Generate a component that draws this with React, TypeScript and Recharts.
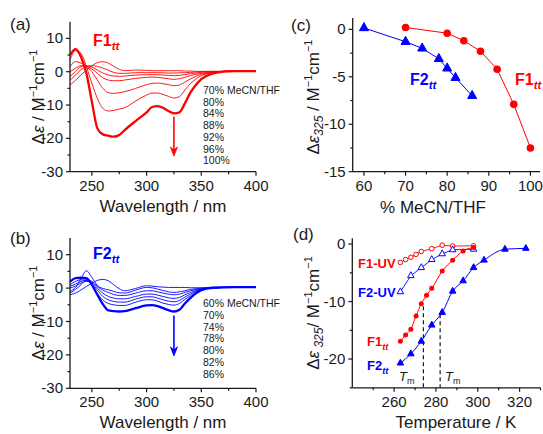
import React from "react";
import { LineChart, Line, XAxis, YAxis, ReferenceLine, ReferenceDot } from "recharts";

const FONT = "'Liberation Sans', Arial, Helvetica, sans-serif";
const RED = "#ff0000";
const BLUE = "#0000ff";
const INK = "#1a1a1a";
const W = 543;
const H = 434;

// CD spectra share one wavelength grid (nm)
const wavelengths = [230, 235, 240, 245, 250, 255, 260, 265, 270, 275, 280, 290, 300, 305, 310, 315, 320, 325, 330, 335, 340, 345, 350, 360, 370, 380, 390, 400];

// (a) F1tt in MeCN/THF
const f1Labels = ["70% MeCN/THF", "80%", "84%", "88%", "92%", "96%", "100%"];
const f1_70 = [-4.0, -2.6, -1.0, 0.5, 1.8, 2.7, 3.0, 2.6, 1.6, 0.7, 0.3, 0.5, 0.4, 0.3, 0.3, 0.3, 0.3, 0.3, 0.3, 0.2, 0.2, 0.1, 0.1, 0.1, 0.1, 0.2, 0.2, 0.2];
const f1_80 = [-2.6, -1.0, 0.6, 1.5, 1.8, 1.6, 1.1, 0.4, -0.2, -0.5, -0.5, -0.3, -0.3, -0.3, -0.3, -0.35, -0.4, -0.4, -0.35, -0.3, -0.2, -0.1, 0.0, 0.1, 0.1, 0.2, 0.2, 0.2];
const f1_84 = [-1.5, 0.1, 1.5, 1.8, 1.4, 0.5, -0.4, -1.0, -1.3, -1.4, -1.3, -1.0, -0.9, -0.9, -0.9, -1.0, -1.1, -1.2, -1.1, -0.9, -0.6, -0.4, -0.2, 0.0, 0.1, 0.2, 0.2, 0.2];
const f1_88 = [0.0, 1.0, 1.8, 1.6, 0.8, -0.5, -1.8, -2.5, -2.7, -2.7, -2.5, -2.0, -1.7, -1.6, -1.7, -1.9, -2.1, -2.3, -2.1, -1.7, -1.2, -0.8, -0.5, -0.1, 0.1, 0.2, 0.2, 0.2];
const f1_92 = [1.5, 3.0, 2.6, 1.4, 0.0, -2.5, -5.0, -6.3, -6.5, -6.3, -6.0, -5.0, -3.9, -3.5, -3.4, -3.6, -3.9, -4.2, -4.0, -3.1, -2.2, -1.4, -0.8, -0.2, 0.1, 0.2, 0.2, 0.2];
const f1_96 = [3.5, 6.3, 5.5, 1.5, -3.5, -8.0, -11.0, -11.8, -11.6, -11.2, -10.8, -8.8, -7.0, -6.4, -6.4, -6.8, -7.4, -7.9, -7.5, -5.5, -3.6, -2.2, -1.2, -0.3, 0.1, 0.2, 0.2, 0.2];
const f1_100 = [5.0, 6.8, 4.5, -0.5, -9.0, -17.0, -18.8, -19.2, -19.5, -19.0, -17.5, -14.8, -12.2, -10.6, -10.3, -10.8, -11.8, -12.5, -12.2, -9.5, -6.3, -4.0, -2.2, -0.6, 0.0, 0.2, 0.2, 0.2];
const f1Spectra = [f1_70, f1_80, f1_84, f1_88, f1_92, f1_96, f1_100];

// (b) F2tt in MeCN/THF
const f2Labels = ["60% MeCN/THF", "70%", "74%", "78%", "80%", "82%", "86%"];
const f2_60 = [-2.0, -1.5, -0.6, 0.5, 1.5, 2.3, 2.6, 2.2, 1.0, -0.2, -0.8, -0.1, 0.7, 0.6, 0.4, 0.3, 0.2, 0.2, 0.2, 0.2, 0.1, 0.1, 0.1, 0.1, 0.2, 0.3, 0.3, 0.3];
const f2_70 = [-1.0, 0.2, 2.8, 5.2, 3.2, 0.8, -0.1, -0.5, -1.0, -1.4, -1.5, -0.6, 0.2, 0.1, -0.3, -0.7, -1.1, -1.3, -1.1, -0.8, -0.4, -0.2, 0.0, 0.1, 0.2, 0.3, 0.3, 0.3];
const f2_74 = [-1.5, -0.4, 1.0, 2.5, 2.0, 0.5, -0.6, -1.3, -1.9, -2.2, -2.2, -1.5, -0.8, -0.8, -1.1, -1.5, -1.8, -2.0, -1.8, -1.3, -0.8, -0.4, -0.2, 0.1, 0.2, 0.3, 0.3, 0.3];
const f2_78 = [0.0, 0.6, 1.5, 2.0, 1.7, 0.0, -1.5, -2.5, -3.0, -3.2, -3.2, -2.5, -1.8, -1.8, -2.1, -2.5, -2.9, -3.1, -2.8, -2.0, -1.3, -0.7, -0.3, 0.1, 0.2, 0.3, 0.3, 0.3];
const f2_80 = [0.5, 1.2, 2.0, 2.3, 1.4, -0.6, -2.5, -3.5, -4.0, -4.2, -4.2, -3.3, -2.6, -2.6, -3.0, -3.5, -3.9, -4.1, -3.7, -2.7, -1.8, -0.9, -0.4, 0.1, 0.2, 0.3, 0.3, 0.3];
const f2_82 = [1.0, 2.0, 2.5, 2.4, 1.0, -1.6, -3.6, -4.6, -5.0, -5.2, -5.2, -4.2, -3.5, -3.5, -3.9, -4.5, -4.9, -5.1, -4.6, -3.4, -2.3, -1.2, -0.5, 0.1, 0.2, 0.3, 0.3, 0.3];
const f2_86 = [1.9, 3.0, 3.1, 3.0, 1.0, -2.0, -4.8, -6.7, -6.9, -7.0, -6.9, -6.0, -5.2, -5.1, -5.4, -6.0, -6.6, -7.0, -6.5, -4.6, -3.0, -1.6, -0.6, 0.1, 0.2, 0.3, 0.3, 0.3];
const f2Spectra = [f2_60, f2_70, f2_74, f2_78, f2_80, f2_82, f2_86];

// (c) Δε at 325 nm vs solvent composition
const pctF1 = [70, 80, 84, 88, 92, 96, 100];
const de325F1 = [0.2, -0.4, -1.2, -2.3, -4.2, -7.9, -12.5];
const pctF2 = [60, 70, 74, 78, 80, 82, 86];
const de325F2 = [0.15, -1.3, -2.0, -3.1, -4.1, -5.1, -7.0];

// (d) Δε at 325 nm vs temperature
const tempF1 = [263, 265.5, 268, 270.5, 273, 275.5, 278, 283, 288, 293, 298];
const meltF1 = [-16.9, -15.8, -14.8, -12.5, -10.4, -8.9, -7.7, -4.7, -2.8, -1.2, -0.6];
const tempF2 = [263, 268, 273, 278, 283, 288, 293, 298, 303, 313, 323];
const meltF2 = [-20.7, -19.1, -16.9, -14.1, -11.9, -8.2, -6.4, -4.1, -2.8, -0.9, -0.75];
const tempF1uv = [263, 265.5, 268, 270.5, 273, 278, 283, 288, 298];
const meltF1uv = [-3.2, -2.7, -2.3, -1.8, -1.3, -0.8, -0.2, -0.35, -0.3];
const tempF2uv = [263, 268, 273, 278, 283, 288, 298];
const meltF2uv = [-8.3, -5.5, -4.1, -2.7, -1.7, -1.0, -0.9];
const tmValues = [274, 282];
const tmTops = [-10.8, -12.2];

const toRows = (xs: number[], ys: number[]) => xs.map((x, i) => ({ x, y: ys[i] }));
const spectraRows = (sets: number[][]) =>
  wavelengths.map((x, i) => {
    const row: Record<string, number> = { x };
    sets.forEach((s, k) => (row["s" + k] = s[i]));
    return row;
  });

const XTick = (p: any) => {
  const { x, y, payload, majors } = p;
  const major = majors.includes(payload.value);
  return (
    <g>
      <line x1={x} x2={x} y1={y} y2={y + (major ? 4 : 2.5)} stroke={INK} strokeWidth={1.2} />
      {major && (
        <text x={x} y={y + 19} textAnchor="middle" fontSize={15} fontFamily={FONT} fill={INK}>
          {payload.value}
        </text>
      )}
    </g>
  );
};

const YTick = (p: any) => {
  const { x, y, payload, majors } = p;
  const major = majors.includes(payload.value);
  return (
    <g>
      <line x1={x - (major ? 4 : 2.5)} x2={x} y1={y} y2={y} stroke={INK} strokeWidth={1.2} />
      {major && (
        <text x={x - 7} y={y + 5} textAnchor="end" fontSize={15} fontFamily={FONT} fill={INK}>
          {payload.value}
        </text>
      )}
    </g>
  );
};

const Tri = ({ cx, cy, s, fill, stroke }: any) => (
  <path
    d={`M${cx},${cy - s * 0.6} L${cx - s / 2},${cy + s * 0.3} L${cx + s / 2},${cy + s * 0.3} Z`}
    fill={fill}
    stroke={stroke}
    strokeWidth={1}
  />
);

const ArrowHead = ({ cx, cy, color }: any) => (
  <path d={`M${cx - 3.5},${cy - 9} L${cx},${cy} L${cx + 3.5},${cy - 9} L${cx},${cy - 6} Z`} fill={color} stroke={color} strokeWidth={0.8} />
);

type Box = { left: number; right: number; top: number; bottom: number };

function Panel(props: {
  box: Box;
  data?: any[];
  xDomain: number[];
  yDomain: number[];
  xTicks: number[];
  xMajor: number[];
  yTicks: number[];
  yMajor: number[];
  children: React.ReactNode;
}) {
  const { box } = props;
  const margin = { top: box.top, right: W - box.right, left: box.left - 40, bottom: H - box.bottom - 30 };
  return (
    <div style={{ position: "absolute", left: 0, top: 0 }}>
      <LineChart width={W} height={H} data={props.data} margin={margin}>
        <XAxis
          type="number"
          dataKey="x"
          domain={props.xDomain}
          ticks={props.xTicks}
          interval={0}
          height={30}
          tickSize={0}
          tickMargin={0}
          tickLine={false}
          allowDataOverflow
          axisLine={{ stroke: INK, strokeWidth: 1.3 }}
          tick={(p: any) => <XTick {...p} majors={props.xMajor} />}
        />
        <YAxis
          type="number"
          domain={props.yDomain}
          ticks={props.yTicks}
          interval={0}
          width={40}
          tickSize={0}
          tickMargin={0}
          tickLine={false}
          allowDataOverflow
          axisLine={{ stroke: INK, strokeWidth: 1.3 }}
          tick={(p: any) => <YTick {...p} majors={props.yMajor} />}
        />
        {props.children}
      </LineChart>
    </div>
  );
}

const Name = ({ x, y, main, sub, color, size }: any) => (
  <text x={x} y={y} fill={color} fontWeight="bold" fontSize={size} fontFamily={FONT}>
    {main}
    <tspan fontStyle="italic" fontSize={size * 0.72} dy={size * 0.28}>
      {sub}
    </tspan>
  </text>
);

const YLabel = ({ x, y, sub, gap }: any) => (
  <text transform={`translate(${x},${y}) rotate(-90)`} textAnchor="middle" fontSize={17} fontFamily={FONT} fill={INK}>
    Δ<tspan fontStyle="italic">ε</tspan>
    {sub ? (
      <>
        <tspan fontStyle="italic" fontSize={12} dy={4}>
          {gap ? " " + sub : sub}
        </tspan>
        <tspan dy={-4}>{gap ? "/ M" : " / M"}</tspan>
      </>
    ) : (
      <tspan> / M</tspan>
    )}
    <tspan fontSize={11} dy={-7}>−1</tspan>
    <tspan dy={7}>cm</tspan>
    <tspan fontSize={11} dy={-7}>−1</tspan>
  </text>
);

const T = ({ x, y, children, size = 17, anchor = "start" }: any) => (
  <text x={x} y={y} fontSize={size} fontFamily={FONT} fill={INK} textAnchor={anchor}>
    {children}
  </text>
);

const Tm = ({ x, y }: any) => (
  <text x={x} y={y} fontSize={13} fontFamily={FONT} fill={INK} fontStyle="italic">
    T<tspan fontStyle="normal" fontSize={9} dy={3}>m</tspan>
  </text>
);

const specX = [250, 275, 300, 325, 350, 375, 400];
const specXMajor = [250, 300, 350, 400];
const specY = [10, 5, 0, -5, -10, -15, -20, -25, -30];
const specYMajor = [10, 0, -10, -20, -30];

export default function App() {
  const rowsA = spectraRows(f1Spectra);
  const rowsB = spectraRows(f2Spectra);
  return (
    <div style={{ position: "absolute", left: 0, top: 0, width: W, height: H, background: "#fff", overflow: "hidden" }}>
      {/* (a) */}
      <Panel
        box={{ left: 70, right: 256, top: 21.7, bottom: 171.7 }}
        data={rowsA}
        xDomain={[230, 400]}
        yDomain={[-30, 15]}
        xTicks={specX}
        xMajor={specXMajor}
        yTicks={specY}
        yMajor={specYMajor}
      >
        {f1Spectra.map((_, k) => (
          <Line
            key={k}
            type="monotone"
            dataKey={"s" + k}
            stroke={RED}
            strokeWidth={k === f1Spectra.length - 1 ? 2.3 : 0.9}
            dot={false}
            isAnimationActive={false}
          />
        ))}
        <ReferenceLine segment={[{ x: 325, y: -13.5 }, { x: 325, y: -24.5 }]} stroke={RED} strokeWidth={1.6} />
        <ReferenceDot x={325} y={-25.3} r={0} shape={(p: any) => <ArrowHead cx={p.cx} cy={p.cy} color={RED} />} />
      </Panel>

      {/* (b) */}
      <Panel
        box={{ left: 70, right: 256, top: 238, bottom: 388.3 }}
        data={rowsB}
        xDomain={[230, 400]}
        yDomain={[-30, 15]}
        xTicks={specX}
        xMajor={specXMajor}
        yTicks={specY}
        yMajor={specYMajor}
      >
        {f2Spectra.map((_, k) => (
          <Line
            key={k}
            type="monotone"
            dataKey={"s" + k}
            stroke={BLUE}
            strokeWidth={k === f2Spectra.length - 1 ? 2.3 : 0.9}
            dot={false}
            isAnimationActive={false}
          />
        ))}
        <ReferenceLine segment={[{ x: 325, y: -8.2 }, { x: 325, y: -19.5 }]} stroke={BLUE} strokeWidth={1.6} />
        <ReferenceDot x={325} y={-20.3} r={0} shape={(p: any) => <ArrowHead cx={p.cx} cy={p.cy} color={BLUE} />} />
      </Panel>

      {/* (c) */}
      <Panel
        box={{ left: 352.7, right: 540, top: 18, bottom: 171.7 }}
        xDomain={[57.3, 102.3]}
        yDomain={[-15, 1.2]}
        xTicks={[60, 65, 70, 75, 80, 85, 90, 95, 100]}
        xMajor={[60, 70, 80, 90, 100]}
        yTicks={[0, -2.5, -5, -7.5, -10, -12.5, -15]}
        yMajor={[0, -5, -10, -15]}
      >
        <Line
          data={toRows(pctF1, de325F1)}
          dataKey="y"
          stroke={RED}
          strokeWidth={1}
          dot={{ r: 3.8, fill: RED, stroke: RED, strokeWidth: 0 }}
          isAnimationActive={false}
        />
        <Line
          data={toRows(pctF2, de325F2)}
          dataKey="y"
          stroke={BLUE}
          strokeWidth={1}
          dot={(p: any) => <Tri key={p.index} cx={p.cx} cy={p.cy} s={9} fill={BLUE} stroke={BLUE} />}
          isAnimationActive={false}
        />
      </Panel>

      {/* (d) */}
      <Panel
        box={{ left: 352.3, right: 540.5, top: 238.3, bottom: 387.8 }}
        xDomain={[240, 330]}
        yDomain={[-25, 1]}
        xTicks={[250, 260, 270, 280, 290, 300, 310, 320, 330]}
        xMajor={[260, 280, 300, 320]}
        yTicks={[0, -5, -10, -15, -20, -25]}
        yMajor={[0, -10, -20]}
      >
        {tmValues.map((t, i) => (
          <ReferenceLine
            key={t}
            segment={[{ x: t, y: tmTops[i] }, { x: t, y: -25 }]}
            stroke={INK}
            strokeWidth={1.2}
            strokeDasharray="4 3"
          />
        ))}
        <Line
          data={toRows(tempF1uv, meltF1uv)}
          dataKey="y"
          stroke={RED}
          strokeWidth={0.9}
          dot={{ r: 2.3, fill: "#fff", stroke: RED, strokeWidth: 1 }}
          isAnimationActive={false}
        />
        <Line
          data={toRows(tempF2uv, meltF2uv)}
          dataKey="y"
          stroke={BLUE}
          strokeWidth={0.9}
          dot={(p: any) => <Tri key={p.index} cx={p.cx} cy={p.cy} s={6.5} fill="#fff" stroke={BLUE} />}
          isAnimationActive={false}
        />
        <Line
          data={toRows(tempF1, meltF1)}
          type="monotone"
          dataKey="y"
          stroke={RED}
          strokeWidth={1}
          dot={{ r: 2.5, fill: RED, stroke: RED, strokeWidth: 0 }}
          isAnimationActive={false}
        />
        <Line
          data={toRows(tempF2, meltF2)}
          type="monotone"
          dataKey="y"
          stroke={BLUE}
          strokeWidth={1}
          dot={(p: any) => <Tri key={p.index} cx={p.cx} cy={p.cy} s={6.5} fill={BLUE} stroke={BLUE} />}
          isAnimationActive={false}
        />
      </Panel>

      {/* text overlay */}
      <svg width={W} height={H} style={{ position: "absolute", left: 0, top: 0, pointerEvents: "none" }}>
        <T x={10} y={30}>(a)</T>
        <T x={10} y={244}>(b)</T>
        <T x={291} y={31}>(c)</T>
        <T x={293} y={240}>(d)</T>

        <YLabel x={44} y={97} />
        <YLabel x={44} y={313} />
        <YLabel x={319} y={97} sub="325" />
        <YLabel x={319} y={313} sub="325" gap />

        <T x={163} y={212} anchor="middle">Wavelength / nm</T>
        <T x={163} y={428} anchor="middle">Wavelength / nm</T>
        <T x={433} y={213} anchor="middle">% MeCN/THF</T>
        <T x={456} y={428} anchor="middle">Temperature / K</T>

        <Name x={93} y={46} main="F1" sub="tt" color={RED} size={16} />
        <Name x={93} y={259} main="F2" sub="tt" color={BLUE} size={16} />
        <Name x={410} y={85} main="F2" sub="tt" color={BLUE} size={16} />
        <Name x={515} y={85} main="F1" sub="tt" color={RED} size={16} />
        <Name x={358} y={268} main="F1-UV" sub="" color={RED} size={13} />
        <Name x={358} y={297} main="F2-UV" sub="" color={BLUE} size={13} />
        <Name x={367} y={346} main="F1" sub="tt" color={RED} size={13} />
        <Name x={367} y={370} main="F2" sub="tt" color={BLUE} size={13} />

        {f1Labels.map((s, i) => (
          <T key={s} x={203} y={94 + i * 11.7} size={10.5}>{s}</T>
        ))}
        {f2Labels.map((s, i) => (
          <T key={s} x={203} y={307 + i * 11.8} size={10.5}>{s}</T>
        ))}

        <Tm x={399} y={381} />
        <Tm x={445} y={381} />
      </svg>
    </div>
  );
}
